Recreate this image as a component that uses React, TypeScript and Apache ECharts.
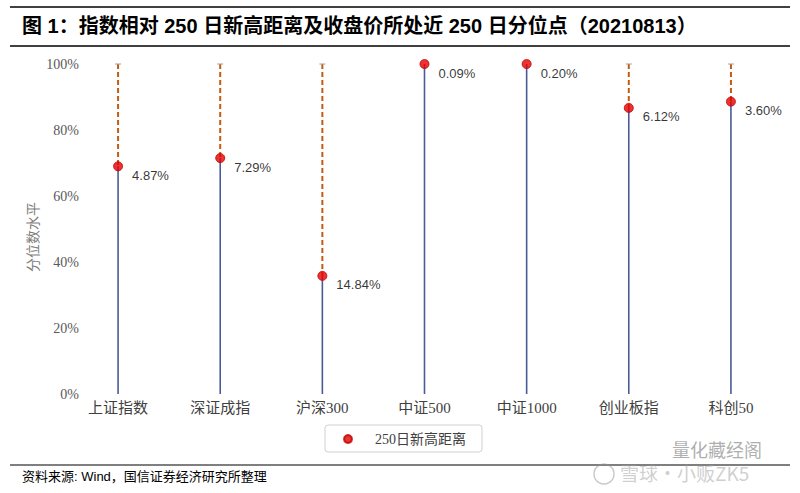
import React, { useEffect, useRef } from "react";
import * as echarts from "echarts";

const categories = ["上证指数", "深证成指", "沪深300", "中证500", "中证1000", "创业板指", "科创50"];
// percentile of close within the last 250 days (%)
const percentile = [69.0, 71.5, 35.8, 100, 100, 86.7, 88.6];
// distance from 250-day high (%)
const distance = [4.87, 7.29, 14.84, 0.09, 0.2, 6.12, 3.6];
const yTicks = [0, 20, 40, 60, 80, 100];

const App: React.FC = () => {
  const ref = useRef<HTMLDivElement>(null);

  useEffect(() => {
    if (!ref.current) return;
    const chart = echarts.init(ref.current, undefined, { renderer: "svg" });
    const serif = "'Liberation Serif', 'Noto Sans CJK SC', serif";
    const sans = "'Liberation Sans', Arial, 'Noto Sans CJK SC', sans-serif";

    const option: any = {
      animation: false,
      backgroundColor: "#ffffff",
      grid: { left: 67, right: 18, top: 64, bottom: 99, containLabel: false },
      xAxis: {
        type: "category",
        data: categories,
        boundaryGap: true,
        axisLine: { show: false },
        axisTick: { show: false },
        axisLabel: {
          color: "#404040",
          fontSize: 15,
          fontFamily: serif,
          margin: 6,
        },
      },
      yAxis: {
        type: "value",
        min: yTicks[0],
        max: yTicks[yTicks.length - 1],
        interval: 20,
        offset: -20,
        axisLine: { show: false },
        axisTick: { show: false },
        splitLine: { show: false },
        axisLabel: {
          color: "#595959",
          fontSize: 14,
          fontFamily: serif,
          formatter: (v: number) => `${v}%`,
        },
      },
      legend: {
        data: [{ name: "250日新高距离", icon: "circle" }],
        left: 325,
        top: 425,
        itemWidth: 8,
        itemHeight: 8,
        borderColor: "#d0d0d0",
        borderWidth: 1,
        borderRadius: 3,
        padding: [7, 16, 6, 18],
        textStyle: {
          color: "#404040",
          fontSize: 14,
          fontFamily: serif,
          padding: [0, 0, 0, 18],
        },
      },
      series: [
        {
          type: "custom",
          name: "lines",
          silent: true,
          z: 1,
          data: percentile.map((v, i) => [i, v]),
          renderItem: (params: any, api: any) => {
            const idx = api.value(0);
            const v = api.value(1);
            const p = api.coord([idx, v]);
            const b = api.coord([idx, 0]);
            const t = api.coord([idx, 100]);
            const children: any[] = [
              {
                type: "line",
                shape: { x1: b[0], y1: b[1], x2: p[0], y2: p[1] },
                style: { stroke: "#4a5c96", lineWidth: 1.6 },
              },
            ];
            if (v < 100) {
              children.push({
                type: "line",
                shape: { x1: t[0], y1: t[1], x2: p[0], y2: p[1] },
                style: { stroke: "#c55a11", lineWidth: 2, lineDash: [5, 3] },
              });
              children.push({
                type: "line",
                shape: { x1: t[0] - 3, y1: t[1], x2: t[0] + 3, y2: t[1] },
                style: { stroke: "#a0a0a0", lineWidth: 1 },
              });
            }
            return { type: "group", children };
          },
        },
        {
          type: "scatter",
          name: "250日新高距离",
          z: 3,
          symbol: "circle",
          symbolSize: 9,
          itemStyle: { color: "#e60000", borderColor: "#c00000", borderWidth: 1 },
          data: percentile.map((v, i) => [i, v]),
          label: {
            show: true,
            position: "right",
            offset: [4, 9],
            color: "#000000",
            fontSize: 13,
            fontFamily: sans,
            formatter: (p: any) => `${distance[p.dataIndex].toFixed(2)}%`,
          },
        },
      ],
      graphic: [
        {
          type: "line",
          shape: { x1: 10, y1: 7, x2: 790, y2: 7 },
          style: { stroke: "#000", lineWidth: 1.5 },
        },
        {
          type: "text",
          x: 22,
          y: 26,
          style: {
            text: "图 1：指数相对 250 日新高距离及收盘价所处近 250 日分位点（20210813）",
            fill: "#000",
            font: "bold 20px 'Liberation Sans', Arial, 'Noto Sans CJK SC', sans-serif",
            textVerticalAlign: "middle",
          },
        },
        {
          type: "line",
          shape: { x1: 10, y1: 46, x2: 790, y2: 46 },
          style: { stroke: "#000", lineWidth: 1.5 },
        },
        {
          type: "text",
          x: 33,
          y: 237,
          rotation: Math.PI / 2,
          style: {
            text: "分位数水平",
            fill: "#7f7f7f",
            font: "14px 'Liberation Serif', 'Noto Sans CJK SC', serif",
            textAlign: "center",
            textVerticalAlign: "middle",
          },
        },
        {
          type: "line",
          shape: { x1: 10, y1: 465, x2: 790, y2: 465 },
          style: { stroke: "#000", lineWidth: 1.2 },
        },
        {
          type: "text",
          left: 22,
          top: 470,
          style: {
            text: "资料来源: Wind，国信证券经济研究所整理",
            fill: "#000",
            font: "13px 'Liberation Sans', Arial, 'Noto Sans CJK SC', sans-serif",
          },
        },
        {
          type: "circle",
          shape: { cx: 604, cy: 474, r: 10 },
          style: { fill: "none", stroke: "rgba(150,150,150,0.5)", lineWidth: 1.5 },
        },
        {
          type: "text",
          left: 672,
          top: 440,
          style: {
            text: "量化藏经阁",
            fill: "rgba(120,120,120,0.6)",
            font: "18px 'Noto Sans CJK SC', sans-serif",
          },
        },
        {
          type: "text",
          left: 620,
          top: 463,
          style: {
            text: "雪球·小贩ZK5",
            fill: "rgba(160,160,160,0.5)",
            font: "19px 'Noto Sans CJK SC', sans-serif",
          },
        },
      ],
    };

    chart.setOption(option);
    return () => chart.dispose();
  }, []);

  return (
    <div
      ref={ref}
      style={{ position: "fixed", left: 0, top: 0, width: 800, height: 493 }}
    />
  );
};

export default App;
